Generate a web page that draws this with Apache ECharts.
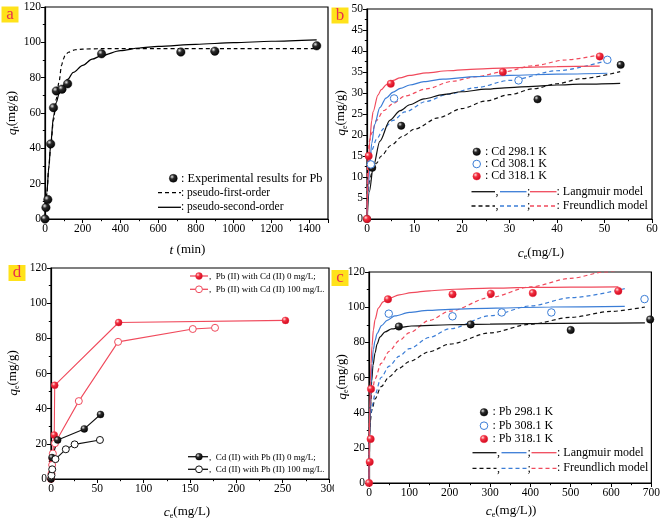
<!DOCTYPE html>
<html><head><meta charset="utf-8">
<script src="https://cdn.jsdelivr.net/npm/echarts@6/dist/echarts.min.js"></script>
<style>html,body{margin:0;padding:0;background:#fff}#c{width:663px;height:527px}</style>
</head><body><div id="c"></div>
<script>
// ---------- Panel a : kinetics (t, qt) ----------
const aExp = [[0,0],[5,6.5],[15,11],[30,42.5],[45,63],[60,72.5],[90,73.5],[120,76.5],[300,93.5],[720,94.5],[900,95],[1440,98]];
const aPfo = [[0,0],[10,15],[20,29],[30,41],[45,56],[60,68],[74,77.5],[88,87],[97,90.5],[106,92.5],[124,94.4],[160,95.8],[200,96.2],[300,96.4],[600,96.4],[1000,96.4],[1440,96.4]];
const aPso = [[0,0],[5,8],[10,15],[20,29],[30,42],[45,58],[60,66],[75,71],[90,74.5],[120,79],[150,83],[200,87],[250,90.5],[300,92.5],[400,95.3],[500,96.8],[600,97.7],[800,98.9],[1000,99.8],[1200,100.6],[1440,101.4]];
const aXTicks = [0,1500,200];
const aYTicks = [0,120,20];

// ---------- Panel b : Cd isotherms ----------
const bCd298 = [[0,0],[1.1,12.2],[7.2,22.2],[35.9,28.5],[53.4,36.7]];
const bCd308 = [[0.8,13],[5.7,28.7],[31.9,33],[50.6,37.9]];
const bCd318 = [[0,0],[0.35,15],[5,32.2],[28.6,35],[49,38.7]];
const bLang298 = [[0,0],[0.5,6.5],[1.3,12.3],[2.7,18.5],[4.8,23.5],[7,25.8],[9,27.2],[12,28.6],[16,29.6],[20,30.3],[25,30.9],[30,31.3],[35,31.6],[40,31.9],[45,32.1],[53.3,32.3]];
const bLang308 = [[0,0],[0.3,8],[0.6,13.5],[1,18],[1.6,22.5],[2.7,26.5],[4,28.8],[5.5,30.2],[7,31.1],[9,31.9],[12,32.7],[16,33.3],[23,33.9],[30,34.2],[40,34.5],[50.6,34.7]];
const bLang318 = [[0,0],[0.2,9],[0.57,18.5],[1,23.5],[1.27,25.5],[2.3,29.5],[3,30.8],[4.1,32],[5.5,33],[6.9,33.6],[9,34.2],[12.5,34.8],[17,35.3],[23,35.7],[30,36],[40,36.3],[49,36.4]];
const bFr298 = [[0,0],[0.1,5.5],[0.5,8.9],[1,10.9],[2,13.3],[3,15],[5,17.5],[7.5,19.7],[10,21.4],[15,24.1],[20,26.3],[25,28.1],[30,29.6],[35,31],[40,32.2],[45,33.4],[53.3,35.1]];
const bFr308 = [[0,0],[0.1,10],[0.5,14.2],[1,16.4],[2,19],[3.5,21.5],[5.5,23.5],[8,25.5],[12.5,28],[17,29.7],[23,31.3],[30,33],[40,35.3],[49.8,37.5]];
const bFr318 = [[0,0],[0.1,13],[0.5,18.5],[1,20.5],[2,23.5],[3.5,25.8],[5.5,27.5],[8,29.3],[12.5,31],[18,32.8],[23,33.9],[28.6,35],[35,36.5],[42,37.9],[49,39.1]];
const bXTicks = [0,60,10];
const bYTicks = [0,50,5];

// ---------- Panel c : Pb isotherms ----------
const cPb298 = [[74,89],[252,90.2],[500,87],[697,93]];
const cPb308 = [[49,96.3],[207,94.8],[329,97],[452,97],[683,104.6]];
const cPb318 = [[0,0],[1.7,12],[4,25],[5,53.5],[47,104.5],[207,107.3],[302,107.7],[406,108],[618,109.2]];
const cLang298 = [[0,0],[1,15],[2,27],[3.5,40],[5,50],[6.6,58],[10,67],[15,74],[20,79],[27,83],[40,86],[56,87.6],[80,88.6],[105,89.3],[200,90],[300,90.4],[400,90.6],[550,90.9],[684,91.1]];
const cLang308 = [[0,0],[1,20],[2,35],[3.5,48],[5,57],[7.5,68],[10.8,76],[15,81],[20,85],[31,89.5],[45,92.5],[64,95],[100,97],[146,98.2],[200,98.8],[314,99.5],[450,100.1],[634,100.5]];
const cLang318 = [[0,0],[1,25],[2,43],[3.5,58],[5,68],[7.5,78],[10.8,87],[15,93],[23,99.5],[35,103],[48,104.8],[75,107],[105,108.3],[150,109.3],[212,110.2],[300,110.8],[400,111.2],[500,111.4],[618,111.5]];
const cFr298 = [[0,0],[0.1,18.2],[0.5,24.8],[1,28.4],[3,35.1],[7,41.3],[15,47.9],[30,54.8],[50,60.4],[75,65.3],[100,69.1],[150,74.7],[200,79],[300,85.4],[400,90.3],[500,94.2],[600,97.6],[684,100.1]];
const cFr308 = [[0,0],[0.1,19.2],[0.5,26.5],[1,30.4],[3,36.6],[7,43.4],[15,50.4],[30,60],[50,66.5],[75,72.1],[100,76.4],[150,82.8],[200,87.7],[300,95.1],[400,100.7],[500,105.4],[634,110.5]];
const cFr318 = [[0,0],[0.1,22.9],[0.5,31.3],[1,35.5],[3,43.3],[7,51.2],[15,59.2],[30,68],[50,74.9],[75,81],[100,85.5],[150,92.5],[200,97.7],[300,105.5],[400,111.5],[500,116.4],[585,120],[620,121.2]];
const cXTicks = [0,700,100];
const cYTicks = [0,120,20];

// ---------- Panel d : binary system ----------
const dPbCd0 = [[0,0],[1.4,11.5],[3.5,25],[4,53.3],[73,89],[253,90.2]];
const dPbCd100 = [[0.5,3],[1.2,8],[2,14.5],[4.3,20.3],[30,44.3],[72.4,78],[153,85.3],[177,86]];
const dCdPb0 = [[0,0],[1.1,12.2],[7.2,22.2],[35.9,28.5],[53.4,36.7]];
const dCdPb100 = [[0.5,2],[1.3,5.5],[4.8,11.3],[16,16.9],[25.5,19.7],[52.8,22.2]];
const dXTicks = [0,300,50];
const dYTicks = [0,120,20];

// ---------- styling ----------
const FF = 'Liberation Serif';
const RED = '#ef2b40', RED_L = '#f04a5c', BLUE = '#3b7dd6', BLK = '#111';
function ball(c1, c2, c3){ return {type:'radial', x:0.35, y:0.32, r:0.75, colorStops:[{offset:0,color:c1},{offset:0.35,color:c2},{offset:1,color:c3}]}; }
const BALL_K = ball('#e8e8e8','#2a2a2a','#000');
const BALL_R = ball('#ffe0e0','#f23040','#c80018');

const grids = [
  {left:45, top:7, width:283, height:212},
  {left:367, top:9, width:285, height:210},
  {left:369, top:272, width:284, height:211},
  {left:51, top:268, width:278, height:211}
].map(g => Object.assign({show:true, borderColor:'#000', borderWidth:1.2, backgroundColor:'transparent', containLabel:false}, g));

function axis(gi, t, hideMax){
  return {type:'value', gridIndex:gi, min:t[0], max:t[1], interval:t[2],
    axisLine:{show:true, onZero:false, lineStyle:{color:'#000', width:1.2}},
    axisTick:{show:true, inside:false, length:4, lineStyle:{color:'#000', width:1}},
    minorTick:{show:true, splitNumber:2, length:2.2, lineStyle:{color:'#000', width:1}},
    splitLine:{show:false}, minorSplitLine:{show:false},
    axisLabel:{color:'#000', fontFamily:FF, fontSize:11.5, margin:4, showMaxLabel: !hideMax, formatter: v => String(v)}};
}

function curve(xi, data, color, dashed){
  return {type:'line', xAxisIndex:xi, yAxisIndex:xi, data, showSymbol:false, smooth:0.3, smoothMonotone:'x',
    lineStyle:{color, width:1.2, type: dashed ? [4,3] : 'solid'}, z:2, silent:true, animation:false};
}
function pts(xi, data, fill, stroke, size){
  return {type:'scatter', xAxisIndex:xi, yAxisIndex:xi, data, symbol:'circle', symbolSize:size||7.5,
    itemStyle:{color:fill, borderColor:stroke, borderWidth: fill==='#fff'?1:0.4, opacity:1}, z:5, silent:true, animation:false};
}
function linePts(xi, data, lineColor, fill, stroke){
  return {type:'line', xAxisIndex:xi, yAxisIndex:xi, data, symbol:'circle', symbolSize:7, showSymbol:true,
    lineStyle:{color:lineColor, width:1.1}, itemStyle:{color:fill, borderColor:stroke, borderWidth: fill==='#fff'?1:0.4},
    z:4, silent:true, animation:false};
}

// ---------- graphic helpers ----------
function T(x, y, text, size, extra){
  return {type:'text', x, y, z:100, silent:true, style:Object.assign({text, font: size+'px "'+FF+'"', fill:'#000',
    align:'left', verticalAlign:'middle', textAlign:'left', textVerticalAlign:'middle'}, extra||{})};
}
function L(x1, x2, y, color, dashed){
  return {type:'line', z:100, silent:true, shape:{x1, y1:y, x2, y2:y}, style:{stroke:color, lineWidth:1.3, lineDash: dashed?[4,3]:null}};
}
function C(cx, cy, fill, stroke, r){
  return {type:'circle', z:101, silent:true, shape:{cx, cy, r:r||3.8}, style:{fill, stroke, lineWidth: fill==='#fff'?1:0.4}};
}
function title(x, y, main, sub, rest, rot){
  const rich = {
    m:{fontFamily:FF, fontSize:13.5, fontStyle:'italic', lineHeight:16},
    s:{fontFamily:FF, fontSize:8, verticalAlign:'bottom', lineHeight:9},
    r:{fontFamily:FF, fontSize:13, lineHeight:16}
  };
  const txt = '{m|' + main + '}' + (sub ? '{s|' + sub + '}' : '') + '{r|' + rest + '}';
  return {type:'text', x, y, z:100, silent:true, rotation: rot ? Math.PI/2 : 0,
    style:{text:txt, rich, align:'center', verticalAlign:'middle', textAlign:'center', textVerticalAlign:'middle', fill:'#000'}};
}
function badge(x, y, letter){
  return [
    {type:'rect', z:100, silent:true, shape:{x, y, width:17, height:16}, style:{fill:'#ffe21a'}},
    T(x+8.5, y+8, letter, 17, {fill:'#e8304c', align:'center', textAlign:'center'})
  ];
}

const graphics = [].concat(
  badge(1.5, 6.5, 'a'), badge(331.5, 7.5, 'b'), badge(331.5, 270, 'c'), badge(8.5, 265, 'd'),
  // legend a
  [C(173.3, 178.3, BALL_K, '#000', 4), T(181, 178.3, ': Experimental results for Pb', 12.3),
   L(158, 181, 192.7, '#000', true), T(181, 192.7, ': pseudo-first-order', 11.5),
   L(158, 181, 207.3, '#000', false), T(181, 207.3, ': pseudo-second-order', 11.5)],
  // legend b
  [C(476.7, 151.7, BALL_K, '#000'), T(485, 151.7, ': Cd 298.1 K', 12),
   C(476.7, 164, '#fff', BLUE), T(485, 164, ': Cd 308.1 K', 12),
   C(476.7, 176.3, BALL_R, RED), T(485, 176.3, ': Cd 318.1 K', 12),
   L(471.5, 495, 191.7, BLK, false), T(495.5, 192, ',', 12), L(500, 526.5, 191.7, BLUE, false), T(527, 192, ';', 12),
   L(530, 556.5, 191.7, RED_L, false), T(556.5, 191.7, ': Langmuir model', 12),
   L(471.5, 495, 206, BLK, true), T(495.5, 206.3, ',', 12), L(500, 526.5, 206, BLUE, true), T(527, 206.3, ';', 12),
   L(530, 556.5, 206, RED_L, true), T(556.5, 206, ': Freundlich model', 12)],
  // legend c
  [C(484, 412.3, BALL_K, '#000'), T(492.5, 412.3, ': Pb 298.1 K', 12),
   C(484, 425.7, '#fff', BLUE), T(492.5, 425.7, ': Pb 308.1 K', 12),
   C(484, 439, BALL_R, RED), T(492.5, 439, ': Pb 318.1 K', 12),
   L(472.5, 496.5, 452.7, BLK, false), T(497, 453, ',', 12), L(501.5, 526.5, 452.7, BLUE, false), T(527.5, 453, ';', 12),
   L(531.5, 556.5, 452.7, RED_L, false), T(557, 452.7, ': Langmuir model', 12),
   L(472.5, 496.5, 468.3, BLK, true), T(497, 468.6, ',', 12), L(501.5, 526.5, 468.3, BLUE, true), T(527.5, 468.6, ';', 12),
   L(531.5, 556.5, 468.3, RED_L, true), T(557, 468.3, ': Freundlich model', 12)],
  // legend d
  [L(190, 208, 276, RED_L, false), C(199, 276, BALL_R, RED, 3.4), T(209, 276.5, ',  Pb (II) with Cd (II) 0 mg/L;', 9),
   L(190, 208, 289.3, RED_L, false), C(199, 289.3, '#fff', RED_L, 3.4), T(209, 289.8, ',  Pb (II) with Cd (II) 100 mg/L.', 9),
   L(188, 208, 456.7, BLK, false), C(199, 456.7, BALL_K, '#000', 3.4), T(209, 457.2, ',  Cd (II) with Pb (II) 0 mg/L;', 9),
   L(188, 208, 469.3, BLK, false), C(199, 469.3, '#fff', BLK, 3.4), T(209, 469.8, ',  Cd (II) with Pb (II) 100 mg/L.', 9)],
  // axis titles
  [title(187.5, 250, 't', '', ' (min)', false), title(12, 113, 'q', 't', '(mg/g)', true),
   title(541, 253, 'c', 'e', '(mg/L)', false), title(341, 113, 'q', 'e', '(mg/g)', true),
   title(511, 511, 'c', 'e', '(mg/L))', false), title(342, 377, 'q', 'e', '(mg/g)', true),
   title(187, 512, 'c', 'e', '(mg/L)', false), title(13, 373, 'q', 'e', '(mg/g)', true)],
  // panel c image edge hides the end of d's last tick label
  [{type:'rect', z:99, silent:true, shape:{x:334, y:484, width:12, height:14}, style:{fill:'#fff'}}]
);

const option = {
  animation:false,
  backgroundColor:'#fff',
  grid: grids,
  xAxis: [axis(0, aXTicks, true), axis(1, bXTicks), axis(2, cXTicks), axis(3, dXTicks)],
  yAxis: [axis(0, aYTicks), axis(1, bYTicks), axis(2, cYTicks), axis(3, dYTicks)],
  series: [
    curve(0, aPfo, '#000', true), curve(0, aPso, '#000', false), pts(0, aExp, BALL_K, '#000', 8.5),
    curve(1, bFr298, BLK, true), curve(1, bFr308, BLUE, true), curve(1, bFr318, RED_L, true),
    curve(1, bLang298, BLK, false), curve(1, bLang308, BLUE, false), curve(1, bLang318, RED_L, false),
    pts(1, bCd298, BALL_K, '#000'), pts(1, bCd308, '#fff', BLUE), pts(1, bCd318, BALL_R, RED),
    curve(2, cFr298, BLK, true), curve(2, cFr308, BLUE, true), curve(2, cFr318, RED_L, true),
    curve(2, cLang298, BLK, false), curve(2, cLang308, BLUE, false), curve(2, cLang318, RED_L, false),
    pts(2, cPb298, BALL_K, '#000'), pts(2, cPb308, '#fff', BLUE), pts(2, cPb318, BALL_R, RED),
    linePts(3, dPbCd0, RED_L, BALL_R, RED), linePts(3, dPbCd100, RED_L, '#fff', RED_L),
    linePts(3, dCdPb0, BLK, BALL_K, '#000'), linePts(3, dCdPb100, BLK, '#fff', BLK)
  ],
  graphic: {elements: graphics}
};
const chart = echarts.init(document.getElementById('c'), null, {renderer:'canvas'});
chart.setOption(option);
</script></body></html>
